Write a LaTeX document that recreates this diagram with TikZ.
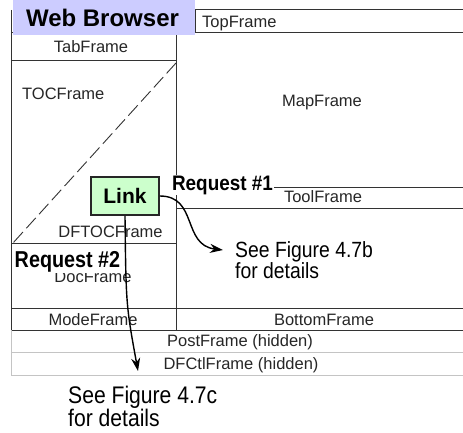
\documentclass[tikz,border=0pt]{standalone}
\usepackage{fontspec}
\setmainfont{Liberation Sans}
\usetikzlibrary{arrows.meta}
\definecolor{browserblue}{HTML}{CCCCFF}
\definecolor{linkgreen}{HTML}{CCFFCC}
\definecolor{hiddengray}{HTML}{C4C4C4}
\newcommand{\narrowed}[2]{\scalebox{#1}[1]{#2}}
\begin{document}
\begin{tikzpicture}[x=1pt,y=-1pt,
  framerule/.style={line width=1pt, draw=black!80},
  hiddenrule/.style={line width=1pt, draw=hiddengray},
  framelabel/.style={font=\fontsize{16.5}{19}\selectfont, text=black!85, inner sep=0pt},
  callout/.style={font=\bfseries\fontsize{21}{24}\selectfont, fill=white, inner sep=1pt},
  note/.style={align=left, inner sep=0pt, anchor=north west},
  pointer/.style={line width=1.4pt, -{Stealth[length=13pt,width=9pt]}},
  linkbox/.style={draw=black!85, line width=1.6pt, fill=linkgreen,
    minimum width=68pt, minimum height=38pt, inner sep=0pt,
    font=\bfseries\fontsize{21}{24}\selectfont}]
\useasboundingbox (0,0) rectangle (463,433);

% frame set of the browser window
\draw[framerule] (11,10) -- (11,330);
\draw[framerule] (195,10) -- (470,10);
\draw[framerule] (195,10) -- (195,33);
\draw[framerule] (11,33) -- (470,33);
\draw[framerule] (11,61) -- (176,61);
\draw[framerule] (176,33) -- (176,330);
\draw[framerule] (11,243) -- (176,243);
\draw[framerule] (176,187) -- (470,187);
\draw[framerule] (176,208) -- (470,208);
\draw[framerule] (11,308) -- (470,308);
\draw[framerule] (11,330) -- (470,330);
% hidden frames
\draw[hiddenrule] (11,330) -- (11,375);
\draw[hiddenrule] (11,352) -- (470,352);
\draw[hiddenrule] (11,375) -- (470,375);
% TOC frame split
\draw[line width=0.9pt, draw=black!80, dash pattern=on 14pt off 5pt] (176,63) -- (13,243);

% window title
\fill[browserblue] (13,0) rectangle (195,35);
\node[font=\bfseries\fontsize{24}{28}\selectfont, inner sep=0pt, anchor=base] (title) at (102.5,27) {Web Browser};

% frame names
\node[framelabel, anchor=base west] (top) at (202,28) {TopFrame};
\node[framelabel, anchor=base] (tab) at (91,52.5) {TabFrame};
\node[framelabel, anchor=base west] (toc) at (22,100) {TOCFrame};
\node[framelabel, anchor=base] (map) at (322,107) {MapFrame};
\node[framelabel, anchor=base] (tool) at (323,202) {ToolFrame};
\node[framelabel, anchor=base] (dftoc) at (110.5,237) {DFTOCFrame};
\node[framelabel, anchor=base] (doc) at (93,282) {DocFrame};
\node[framelabel, anchor=base] (mode) at (93,325) {ModeFrame};
\node[framelabel, anchor=base] (bottom) at (324,325) {BottomFrame};
\node[framelabel, anchor=base] (post) at (240,346) {PostFrame (hidden)};
\node[framelabel, anchor=base] (dfctl) at (241,369) {DFCtlFrame (hidden)};

% request labels
\node[callout, anchor=base] (req1) at (222.5,190) {\narrowed{0.9}{Request \#1}};
\node[callout, font=\bfseries\fontsize{23}{26}\selectfont, anchor=base] (req2) at (67.5,267) {\narrowed{0.86}{Request \#2}};

% notes
\node[note, font=\fontsize{22}{19}\selectfont] (figb) at (235,241)
  {\narrowed{0.88}{See Figure 4.7b}\\\narrowed{0.88}{for details}};
\node[note, font=\fontsize{24}{22}\selectfont] (figc) at (68,386)
  {\narrowed{0.88}{See Figure 4.7c}\\\narrowed{0.88}{for details}};

% link and its requests
\node[linkbox] (link) at (125,196) {Link};
\coordinate (tipb) at (223,250);
\coordinate (tipc) at (138,371);
\draw[pointer] (link.east) .. controls (198,196) and (182,245) .. (tipb);
\draw[pointer] (link.south) .. controls (126,305) .. (tipc);
\end{tikzpicture}
\end{document}
